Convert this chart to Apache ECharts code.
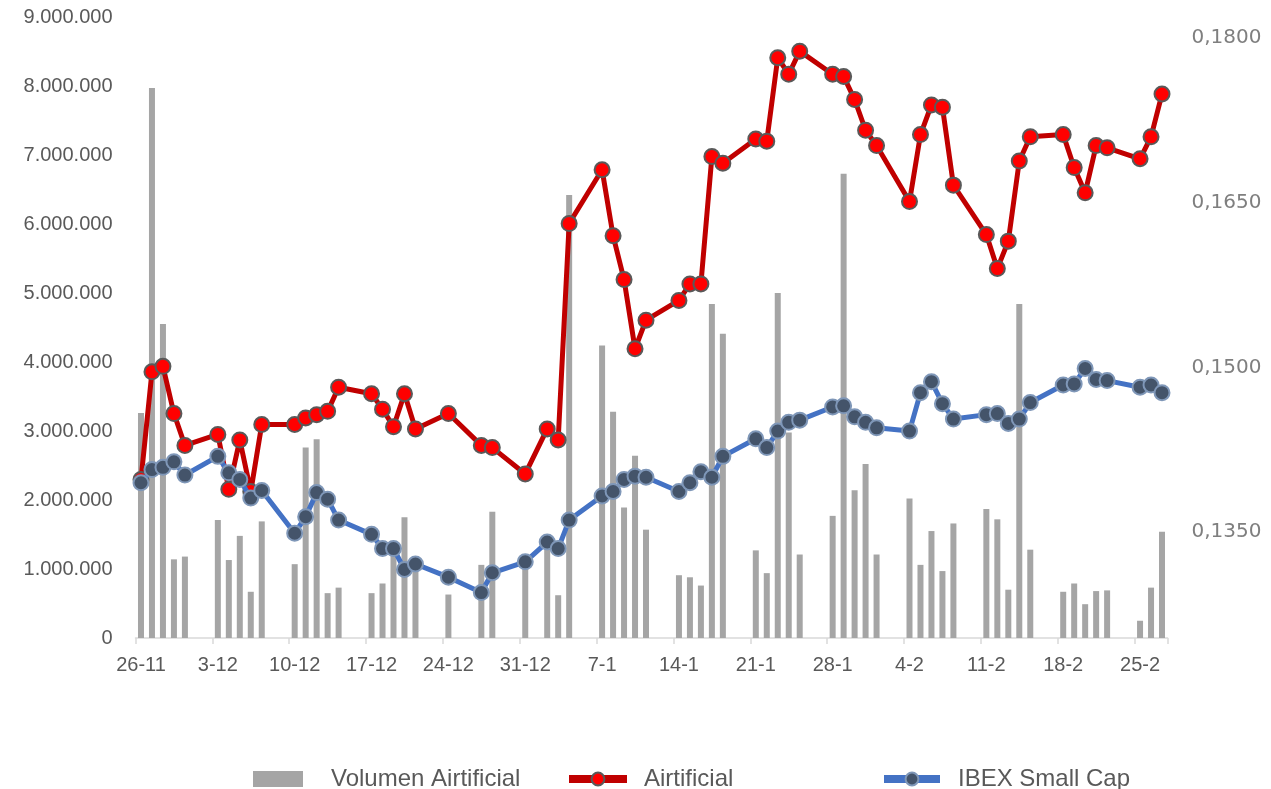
<!DOCTYPE html>
<html>
<head>
<meta charset="utf-8">
<script src="https://cdn.jsdelivr.net/npm/echarts@6/dist/echarts.min.js"></script>
<style>
html,body{margin:0;padding:0;background:#fff;}
#chart{width:1271px;height:789px;}
</style>
</head>
<body>
<div id="chart"></div>
<script>
// Trading days (D-M), Nov 2018 - Feb 2019
const dates = ['26-11','27-11','28-11','29-11','30-11',
  '3-12','4-12','5-12','6-12','7-12',
  '10-12','11-12','12-12','13-12','14-12',
  '17-12','18-12','19-12','20-12','21-12',
  '24-12','27-12','28-12','31-12',
  '2-1','3-1','4-1',
  '7-1','8-1','9-1','10-1','11-1',
  '14-1','15-1','16-1','17-1','18-1',
  '21-1','22-1','23-1','24-1','25-1',
  '28-1','29-1','30-1','31-1','1-2',
  '4-2','5-2','6-2','7-2','8-2',
  '11-2','12-2','13-2','14-2','15-2',
  '18-2','19-2','20-2','21-2','22-2',
  '25-2','26-2','27-2'];

const volumen = [3260000,7970000,4550000,1140000,1180000,
  1710000,1130000,1480000,670000,1690000,
  1070000,2760000,2880000,650000,730000,
  650000,790000,1350000,1750000,1100000,
  630000,1060000,1830000,1150000,
  1380000,620000,6420000,
  4240000,3280000,1890000,2640000,1570000,
  910000,880000,760000,4840000,4410000,
  1270000,940000,5000000,2980000,1210000,
  1770000,6730000,2140000,2520000,1210000,
  2020000,1060000,1550000,970000,1660000,
  1870000,1720000,700000,4840000,1280000,
  670000,790000,490000,680000,690000,
  250000,730000,1540000];

const airtificial = [0.1398,0.1496,0.1501,0.1458,0.1429,
  0.1439,0.1389,0.1434,0.1387,0.1448,
  0.1448,0.1454,0.1457,0.1460,0.1482,
  0.1476,0.1462,0.1446,0.1476,0.1444,
  0.1458,0.1429,0.1427,0.1403,
  0.1444,0.1434,0.1631,
  0.1680,0.1620,0.1580,0.1517,0.1543,
  0.1561,0.1576,0.1576,0.1692,0.1686,
  0.1708,0.1706,0.1782,0.1767,0.1788,
  0.1767,0.1765,0.1744,0.1716,0.1702,
  0.1651,0.1712,0.1739,0.1737,0.1666,
  0.1621,0.1590,0.1615,0.1688,0.1710,
  0.1712,0.1682,0.1659,0.1702,0.1700,
  0.1690,0.1710,0.1749];

const ibexSmallCap = [0.1395,0.1407,0.1409,0.1414,0.1402,
  0.1419,0.1404,0.1398,0.1381,0.1388,
  0.1349,0.1364,0.1386,0.1380,0.1361,
  0.1348,0.1335,0.1335,0.1316,0.1321,
  0.1309,0.1295,0.1313,0.1323,
  0.1341,0.1335,0.1361,
  0.1383,0.1387,0.1398,0.1401,0.1400,
  0.1387,0.1395,0.1405,0.1400,0.1419,
  0.1435,0.1427,0.1442,0.1450,0.1452,
  0.1464,0.1465,0.1455,0.1450,0.1445,
  0.1442,0.1477,0.1487,0.1467,0.1453,
  0.1457,0.1458,0.1449,0.1453,0.1468,
  0.1484,0.1485,0.1499,0.1489,0.1488,
  0.1482,0.1484,0.1477];

const rightTicks = [0.135, 0.15, 0.165, 0.18];
const leftMax = 9000000;

// calendar-day category axis (weekends/holidays empty)
const allDays = [];
for (let d = new Date(2018, 10, 26); d <= new Date(2019, 1, 27); d.setDate(d.getDate() + 1)) {
  allDays.push(d.getDate() + '-' + (d.getMonth() + 1));
}
function spread(arr) {
  const m = {};
  dates.forEach((k, i) => { m[k] = arr[i]; });
  return allDays.map(k => (k in m ? m[k] : null));
}

const chart = echarts.init(document.getElementById('chart'), null, {renderer: 'canvas'});
const txt = '#595959';
const legendText = {color: txt, fontSize: 24, fontFamily: 'Liberation Sans, Arial, sans-serif'};

chart.setOption({
  animation: false,
  backgroundColor: '#fff',
  grid: {left: 135.5, right: 103.5, top: 17, bottom: 151, containLabel: false},
  legend: [
    {data: ['Volumen Airtificial'], left: 248, top: 762, icon: 'rect', itemWidth: 50, itemHeight: 16,
     textStyle: Object.assign({padding: [0, 0, 0, 23]}, legendText)},
    {data: ['Airtificial'], left: 560, top: 762, itemWidth: 58, itemHeight: 16,
     lineStyle: {width: 8},
     textStyle: Object.assign({padding: [0, 0, 0, 12]}, legendText)},
    {data: ['IBEX Small Cap'], left: 875, top: 762, itemWidth: 56, itemHeight: 16,
     lineStyle: {width: 8},
     textStyle: Object.assign({padding: [0, 0, 0, 13]}, legendText)}
  ],
  xAxis: {
    type: 'category',
    data: allDays,
    boundaryGap: true,
    axisLine: {show: true, lineStyle: {color: '#D9D9D9', width: 1.5}},
    axisTick: {show: true, interval: 6, length: 6, lineStyle: {color: '#D9D9D9', width: 1.5}},
    axisLabel: {interval: 6, margin: 17, color: txt, fontSize: 20, fontFamily: 'Liberation Sans, Arial, sans-serif'},
    splitLine: {show: false}
  },
  yAxis: [
    {
      type: 'value', position: 'left', min: 0, max: leftMax, interval: 1000000,
      axisLine: {show: false}, axisTick: {show: false}, splitLine: {show: false},
      axisLabel: {
        margin: 23, color: txt, fontSize: 20, fontFamily: 'Liberation Sans, Arial, sans-serif',
        formatter: v => String(v).replace(/\B(?=(\d{3})+(?!\d))/g, '.')
      }
    },
    {
      type: 'value', position: 'right', min: 0.12536, max: 0.18191,
      axisLine: {show: false}, axisTick: {show: false}, splitLine: {show: false},
      axisLabel: {
        customValues: rightTicks, align: 'left',
        margin: 24, color: '#7F7F7F', fontSize: 20, fontFamily: 'DejaVu Sans, Verdana, sans-serif',
        formatter: v => v.toFixed(4).replace('.', ',')
      }
    }
  ],
  series: [
    {
      name: 'Volumen Airtificial', type: 'bar', yAxisIndex: 0, data: spread(volumen),
      barWidth: 6, itemStyle: {color: '#A5A5A5'}, z: 1
    },
    {
      name: 'Airtificial', type: 'line', yAxisIndex: 1, data: spread(airtificial),
      connectNulls: true, symbol: 'circle', symbolSize: 15, showSymbol: true, showAllSymbol: true,
      lineStyle: {color: '#C00000', width: 5},
      itemStyle: {color: '#FF0000', borderColor: '#595959', borderWidth: 2},
      z: 3
    },
    {
      name: 'IBEX Small Cap', type: 'line', yAxisIndex: 1, data: spread(ibexSmallCap),
      connectNulls: true, symbol: 'circle', symbolSize: 15, showSymbol: true, showAllSymbol: true,
      lineStyle: {color: '#4472C4', width: 5},
      itemStyle: {color: '#44546A', borderColor: '#7F97B8', borderWidth: 2},
      z: 4
    }
  ]
});
</script>
</body>
</html>
